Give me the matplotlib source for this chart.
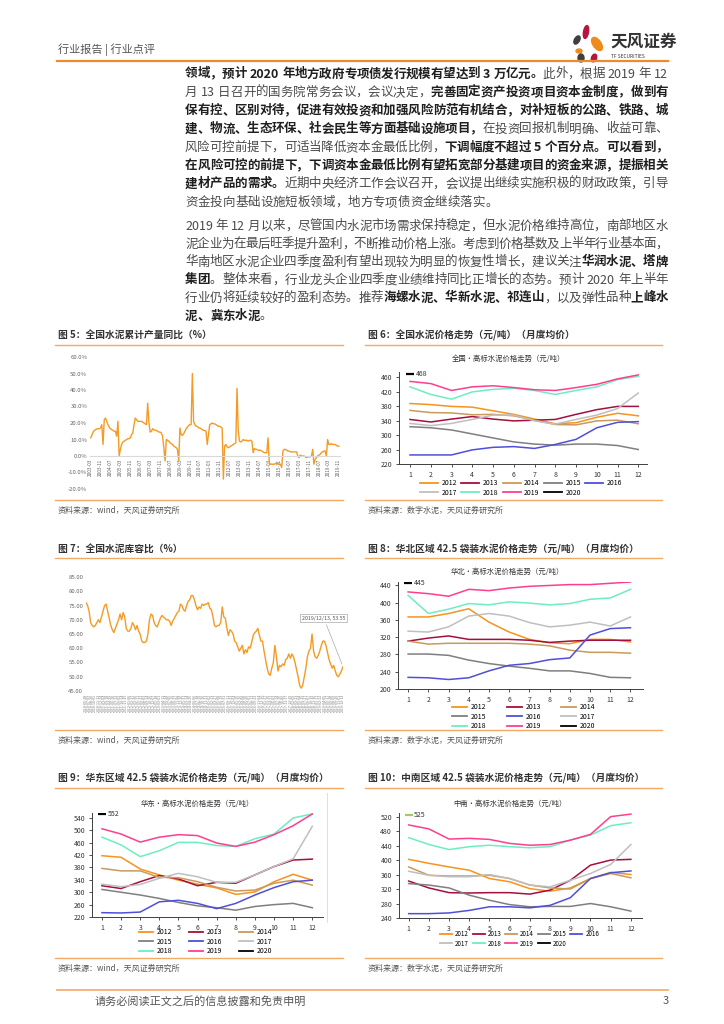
import re
import numpy as np
import pandas as pd
import matplotlib
matplotlib.use('Agg')
import matplotlib.pyplot as plt
from matplotlib.lines import Line2D
from matplotlib.patches import Ellipse

plt.rcParams['font.family'] = ['Noto Sans CJK SC', 'DejaVu Sans']

W, H = 724, 1024

# ---------------- data ----------------
# 图5 全国水泥累计产量同比 (%), monthly from 2003-03 to 2019-11
cum_yoy = [
    11, 12.5, 14.5, 15.5, 16, 16.5, 16.5, 16.5, 17, 19,
    7, 22, 23, 21, 19, 17.5, 16.5, 16, 15.5, 15, 15, 12,
    21, 0, 4, 7, 8.5, 9, 9.5, 10, 10.5, 10.5, 11, 13,
    14, 19, 23, 22, 21, 21, 21, 21, 20.5, 20, 19.5, 19,
    32, 20, 14.5, 15, 16.5, 16, 15.5, 15.5, 15, 14.5, 14.5, 14,
    12, 5, -3, 10, 9.5, 9, 8, 7.5, 7, 6, 5.5, 5,
    4, -3, 17, 13, 12.5, 13.5, 15, 16.5, 17.5, 18.5, 19, 19,
    50, 21, 19, 18, 18, 17, 17, 16.5, 16, 15.5, 15.5, 15,
    7, 13, 19, 19.5, 20, 19.5, 19.5, 19, 18.5, 18, 18, 17.5,
    17, -14, 6, 7, 5.5, 5, 5.5, 6, 6.5, 7, 7.5, 8,
    41, 15, 9, 8.5, 9, 10, 9.5, 9.5, 9.5, 9, 9.5, 9.5,
    9, 2, 4.5, 4, 4, 3.5, 3.5, 3.5, 3, 2.5, 2, 2,
    2, 11, -4, -5, -5, -5, -5, -4.5, -4.5, -4.5, -5, -5,
    -7, 3, 4, 4, 3.5, 3, 3, 2.5, 2.5, 2.5, 2.5, 2.5,
    2.5, 0, -1, 0.5, 0, 0, 0, -0.5, -1, -0.5, -0.5, -0.5,
    0, 4, -5, -2, -1, 0, 0.5, 1, 2, 2.5, 3, 3,
    0, 10, 7, 7, 7.5, 7, 7, 7, 6.5, 6, 6,
]
cum_months = pd.date_range('2003-03-01', periods=len(cum_yoy), freq='MS')
cum_yticks = [-20, -10, 0, 10, 20, 30, 40, 50, 60]

# 图7 全国水泥库容比 (%)
stock_ratio = [
    76, 75, 73, 69, 68, 67.5, 68, 69, 70, 69, 71, 73, 75, 75.5, 73, 70.5,
    68, 66.5, 65.5, 67, 68.5, 70, 72, 70, 72.5, 71, 67, 66, 66, 67, 69, 68,
    66.5, 68, 66, 65, 62.5, 62, 62, 62.5, 65, 70, 72, 71.5, 69, 68, 67.5, 69,
    70.5, 71.5, 71, 70.5, 70, 70, 69.5, 68, 69.5, 70.5, 71.5, 72.5, 73, 75.5,
    75, 73.5, 73, 75, 76.5, 77, 78.5, 78.5, 77, 75, 73.5, 74.5, 74, 75.5,
    75, 75.5, 75.5, 76, 74, 73.5, 71, 68, 67.5, 68, 68, 69, 74.5, 71,
    70.5, 67, 64.5, 66.5, 66, 65, 62.5, 62, 60.5, 59, 60, 61, 58, 59.5,
    58.5, 60.5, 60, 62, 64.5, 65.5, 66, 67, 64.5, 62.5, 62.5, 59, 56, 53,
    51, 50.5, 53, 55, 61, 57, 52, 54, 53.5, 54.5, 54, 56, 56.5, 58, 56.5,
    58, 57, 55, 52.5, 50, 47, 46, 47, 50, 53, 57, 59, 60, 65, 59, 57,
    56.5, 57.5, 59, 61, 62.5, 62.5, 61, 58.5, 56, 54.5, 53, 54, 52, 50.5,
    50, 51, 52, 53.55,
]
stock_dates = pd.date_range(end='2019-12-13', periods=len(stock_ratio), freq='3W-FRI')
stock_yticks = [45, 50, 55, 60, 65, 70, 75, 80, 85]

months = list(range(1, 13))
years = ['2012', '2013', '2014', '2015', '2016', '2017', '2018', '2019', '2020']
year_colors = ['#F7931E', '#A50F3C', '#C99A5B', '#7F7F7F', '#4F4FD9',
               '#BFBFBF', '#6EEDC0', '#FF3F8E', '#000000']

# 图6 全国
national = {
    '2012': [387, 384, 379, 377, 367, 357, 344, 331, 334, 349, 360, 353],
    '2013': [343, 336, 344, 351, 344, 339, 341, 343, 357, 370, 379, 379],
    '2014': [368, 362, 361, 356, 357, 353, 341, 329, 328, 339, 341, 331],
    '2015': [323, 320, 314, 303, 292, 281, 275, 272, 275, 275, 271, 260],
    '2016': [245, 245, 245, 259, 266, 268, 263, 274, 288, 320, 335, 337],
    '2017': [332, 326, 332, 343, 355, 355, 339, 330, 343, 355, 373, 416],
    '2018': [433, 412, 399, 419, 426, 429, 423, 412, 423, 433, 453, 462],
    '2019': [448, 442, 423, 433, 436, 431, 425, 423, 431, 440, 455, 466],
}
national_2020 = 468

# 图8 华北
north = {
    '2012': [367, 367, 375, 386, 355, 332, 315, 307, 305, 315, 315, 309],
    '2013': [311, 318, 323, 315, 315, 315, 313, 308, 311, 313, 313, 313],
    '2014': [311, 304, 306, 306, 306, 306, 304, 300, 290, 285, 285, 283],
    '2015': [281, 281, 278, 267, 259, 253, 248, 242, 242, 236, 227, 226],
    '2016': [227, 226, 222, 226, 242, 255, 259, 268, 272, 325, 340, 342],
    '2017': [334, 332, 344, 369, 375, 369, 354, 344, 348, 355, 346, 367],
    '2018': [417, 375, 385, 398, 395, 402, 399, 395, 398, 408, 411, 431],
    '2019': [425, 421, 415, 431, 428, 434, 438, 440, 442, 442, 445, 448],
}
north_2020 = 445

# 图9 华东
east = {
    '2012': [418, 413, 375, 356, 339, 326, 314, 293, 301, 334, 358, 339],
    '2013': [321, 312, 334, 354, 343, 321, 332, 329, 356, 383, 404, 407],
    '2014': [377, 369, 369, 348, 347, 334, 316, 304, 307, 329, 339, 323],
    '2015': [309, 300, 291, 280, 267, 256, 250, 242, 254, 260, 264, 250],
    '2016': [234, 233, 236, 269, 274, 264, 247, 264, 291, 315, 334, 339],
    '2017': [326, 318, 325, 345, 361, 350, 332, 332, 356, 383, 408, 513],
    '2018': [478, 453, 415, 434, 461, 461, 451, 448, 473, 488, 540, 553],
    '2019': [505, 488, 462, 478, 486, 483, 459, 448, 462, 486, 515, 553],
}
east_2020 = 552

# 图10 中南
central_south = {
    '2012': [402, 391, 381, 372, 349, 340, 321, 314, 323, 349, 366, 360],
    '2013': [342, 323, 310, 309, 310, 310, 306, 317, 344, 386, 400, 402],
    '2014': [381, 358, 356, 356, 358, 349, 331, 323, 320, 349, 363, 351],
    '2015': [335, 331, 323, 303, 289, 277, 271, 272, 272, 280, 271, 259],
    '2016': [252, 252, 254, 261, 271, 271, 268, 275, 296, 349, 365, 370],
    '2017': [369, 358, 354, 354, 360, 349, 331, 326, 344, 363, 388, 443],
    '2018': [462, 443, 429, 437, 441, 437, 434, 437, 455, 469, 495, 503],
    '2019': [497, 486, 458, 460, 457, 446, 441, 443, 455, 471, 520, 527],
}
central_south_2020 = 525

# ---------------- figure ----------------
fig = plt.figure(figsize=(7.24, 10.24), dpi=100)
bg = fig.add_axes([0, 0, 1, 1])
bg.set_xlim(0, W)
bg.set_ylim(H, 0)
bg.axis('off')
renderer = fig.canvas.get_renderer()

ORANGE = '#EE8A2B'
LIGHT_ORANGE = '#F3A964'
LINE_ORANGE = '#F59A23'
TXT = '#4a4a4a'
BOLD_TXT = '#1f1f1f'


def add_axes(left, top, right, bottom):
    return fig.add_axes([left / W, 1 - bottom / H, (right - left) / W, (bottom - top) / H])


def draw_line(segments, y, x0=185, x1=668, justify=True, size=9):
    tokens = []
    for text, bold in segments:
        for tok in re.findall(r'[A-Za-z0-9.%/]+| |.', text):
            tokens.append((tok, bold))
    objs, widths = [], []
    for tok, bold in tokens:
        if tok == ' ':
            objs.append(None)
            widths.append(3.2)
            continue
        t = bg.text(0, y, tok, fontsize=size, va='center', ha='left',
                    fontweight='bold' if bold else 'normal',
                    color=BOLD_TXT if bold else TXT)
        objs.append(t)
        widths.append(t.get_window_extent(renderer).width)
    gap = 0
    if justify and len(tokens) > 1:
        gap = (x1 - x0 - sum(widths)) / (len(tokens) - 1)
    x = x0
    for t, w in zip(objs, widths):
        if t is not None:
            t.set_x(x)
        x += w + gap


# header
bg.text(58, 50, '行业报告 | 行业点评', fontsize=8, color='#555555', va='center')
bg.plot([57, 668], [61, 61], color=ORANGE, lw=1.6)
for (cx, cy, w, h, ang, c) in [(586, 32, 5, 13, 10, '#B5163F'), (597, 44, 8, 15, -35, '#F08A1C'),
                               (577, 40, 5, 9, 30, '#3f3f3f'), (579, 51, 6, 4, 0, '#F08A1C'),
                               (581, 58, 6, 8, 0, '#3f3f3f'), (594, 58, 5, 8, 20, '#B5163F')]:
    bg.add_patch(Ellipse((cx, cy), w, h, angle=ang, color=c))
bg.text(610, 42, '天风证券', fontsize=12, fontweight='bold', color='#333333', va='center')
bg.text(611, 56, 'TF SECURITIES', fontsize=3.5, color='#333333', va='center')

# body text
para1 = [
    [('领域，预计 2020 年地方政府专项债发行规模有望达到 3 万亿元。', True), ('此外，根据 2019 年 12', False)],
    [('月 13 日召开的国务院常务会议，会议决定，', False), ('完善固定资产投资项目资本金制度，做到有', True)],
    [('保有控、区别对待，促进有效投资和加强风险防范有机结合，对补短板的公路、铁路、城', True)],
    [('建、物流、生态环保、社会民生等方面基础设施项目，', True), ('在投资回报机制明确、收益可靠、', False)],
    [('风险可控前提下，可适当降低资本金最低比例，', False), ('下调幅度不超过 5 个百分点。可以看到，', True)],
    [('在风险可控的前提下，下调资本金最低比例有望拓宽部分基建项目的资金来源，提振相关', True)],
    [('建材产品的需求。', True), ('近期中央经济工作会议召开，会议提出继续实施积极的财政政策，引导', False)],
    [('资金投向基础设施短板领域，地方专项债资金继续落实。', False)],
]
para2 = [
    [('2019 年 12 月以来，尽管国内水泥市场需求保持稳定，但水泥价格维持高位，南部地区水', False)],
    [('泥企业为在最后旺季提升盈利，不断推动价格上涨。考虑到价格基数及上半年行业基本面，', False)],
    [('华南地区水泥企业四季度盈利有望出现较为明显的恢复性增长，建议关注', False), ('华润水泥、塔牌', True)],
    [('集团', True), ('。整体来看，行业龙头企业四季度业绩维持同比正增长的态势。预计 2020 年上半年', False)],
    [('行业仍将延续较好的盈利态势。推荐', False), ('海螺水泥、华新水泥、祁连山', True),
     ('，以及弹性品种', False), ('上峰水', True)],
    [('泥、冀东水泥', True), ('。', False)],
]
for i, segs in enumerate(para1):
    draw_line(segs, 74 + 18.3 * i, justify=i < len(para1) - 1)
for i, segs in enumerate(para2):
    draw_line(segs, 226 + 18.0 * i, justify=i < len(para2) - 1)


def frame(x0, x1, title_y, rule_y, bottom_y, title, source):
    bg.text(x0 + 1, title_y, title, fontsize=7, fontweight='bold', color='#333333', va='center')
    bg.plot([x0 - 2, x1], [rule_y, rule_y], color=LIGHT_ORANGE, lw=1.0)
    bg.plot([x0 - 2, x1], [bottom_y, bottom_y], color=LIGHT_ORANGE, lw=1.0)
    bg.text(x0 + 1, bottom_y + 10, source, fontsize=5.8, color='#555555', va='center')


frame(57, 343, 335, 345, 500, '图 5：全国水泥累计产量同比（%）', '资料来源：wind，天风证券研究所')
frame(367, 662, 335, 345, 500, '图 6：全国水泥价格走势（元/吨）（月度均价）', '资料来源：数字水泥，天风证券研究所')
frame(57, 343, 549, 558, 730, '图 7：全国水泥库容比（%）', '资料来源：wind，天风证券研究所')
frame(367, 662, 549, 558, 730, '图 8：华北区域 42.5 袋装水泥价格走势（元/吨）（月度均价）', '资料来源：数字水泥，天风证券研究所')
frame(57, 343, 778, 788, 958, '图 9：华东区域 42.5 袋装水泥价格走势（元/吨）（月度均价）', '资料来源：wind，天风证券研究所')
frame(367, 662, 778, 788, 958, '图 10：中南区域 42.5 袋装水泥价格走势（元/吨）（月度均价）', '资料来源：数字水泥，天风证券研究所')

# footer
bg.plot([57, 668], [990, 990], color=LIGHT_ORANGE, lw=1.2)
bg.text(95, 1001, '请务必阅读正文之后的信息披露和免责申明', fontsize=8, color='#555555', va='center')
bg.text(663, 1001, '3', fontsize=8, color='#555555', va='center')

# ---- 图5
ax5 = add_axes(90, 357, 340, 489)
for s in ['top', 'right', 'left']:
    ax5.spines[s].set_visible(False)
ax5.spines['bottom'].set_position(('data', 0))
ax5.spines['bottom'].set_color('#d9d9d9')
ax5.plot(range(len(cum_yoy)), cum_yoy, color=LINE_ORANGE, lw=1.0)
ax5.set_ylim(-20, 60)
ax5.set_xlim(-0.5, len(cum_yoy))
ax5.set_yticks(cum_yticks)
ax5.set_yticklabels([f'{v:.1f}%' for v in cum_yticks], fontsize=4.3, color='#666666')
xt = list(range(0, len(cum_yoy), 8))
ax5.set_xticks(xt)
ax5.set_xticklabels([cum_months[i].strftime('%Y-%m') for i in xt], rotation=90,
                    fontsize=3.4, color='#666666')
ax5.tick_params(length=0, pad=2)
ax5.patch.set_alpha(0)

# ---- 图7
ax7 = add_axes(86, 577, 343, 691)
ax7.plot(range(len(stock_ratio)), stock_ratio, color=LINE_ORANGE, lw=1.0)
ax7.set_ylim(45, 85)
ax7.set_xlim(0, len(stock_ratio) - 1)
ax7.set_yticks(stock_yticks)
ax7.set_yticklabels([f'{v:.2f}' for v in stock_yticks], fontsize=4.3, color='#666666')
xt7 = list(range(0, len(stock_ratio), 2))
ax7.set_xticks(xt7)
ax7.set_xticklabels([stock_dates[i].strftime('%Y-%m-%d') for i in xt7], rotation=90,
                    fontsize=2.6, color='#777777')
for s in ax7.spines.values():
    s.set_visible(False)
ax7.tick_params(length=0, pad=2)
ax7.patch.set_alpha(0)
ax7.annotate('2019/12/13, 53.55', xy=(len(stock_ratio) - 1, stock_ratio[-1]),
             xytext=(0.925, 0.64), textcoords='axes fraction', fontsize=3.8, color='#555555',
             ha='center', va='center',
             bbox=dict(boxstyle='square,pad=0.3', fc='white', ec='#aaaaaa', lw=0.5),
             arrowprops=dict(arrowstyle='-', color='#aaaaaa', lw=0.5))


def price_chart(rect, data, last_val, last_color, ylim, yticks, xlim, inner_title, title_xy,
                ncol, leg_xy, leg_font, handle_len, colspacing):
    ax = add_axes(*rect)
    for yr, c in zip(years[:-1], year_colors[:-1]):
        ax.plot(months, data[yr], color=c, lw=1.1)
    ax.plot([1], [last_val], marker='_', ms=6, mew=1.6, color=last_color, ls='none')
    ax.annotate(str(last_val), (1, last_val), xytext=(4, 0), textcoords='offset points',
                fontsize=5, va='center', color='#333333')
    ax.set_xlim(*xlim)
    ax.set_ylim(*ylim)
    ax.set_xticks(months)
    ax.set_yticks(yticks)
    ax.tick_params(labelsize=5, colors='#333333', length=2, width=0.6, pad=3)
    for s in ['top', 'right']:
        ax.spines[s].set_visible(False)
    for s in ['left', 'bottom']:
        ax.spines[s].set_color('#404040')
        ax.spines[s].set_linewidth(0.7)
    ax.patch.set_alpha(0)
    bg.text(title_xy[0], title_xy[1], inner_title, fontsize=5.3, color='#333333',
            ha='center', va='center')
    handles = [Line2D([], [], color=c, lw=1.3) for c in year_colors]
    nrow = int(np.ceil(len(years) / ncol))
    order = [r * ncol + k for k in range(ncol) for r in range(nrow) if r * ncol + k < len(years)]
    ax.legend([handles[i] for i in order], [years[i] for i in order], ncol=ncol,
              loc='upper left', bbox_to_anchor=(leg_xy[0] / W, 1 - leg_xy[1] / H),
              bbox_transform=fig.transFigure, frameon=False, fontsize=leg_font,
              handlelength=handle_len, handletextpad=0.5, columnspacing=colspacing,
              labelspacing=0.25, borderpad=0, borderaxespad=0)
    return ax


price_chart((399, 372, 647, 464), national, national_2020, '#000000', (220, 474),
            [220, 260, 300, 340, 380, 420, 460], (0.47, 12.42),
            '全国·高标水泥价格走势（元/吨）', (508, 359), 5, (420, 479), 5, 2.6, 0.6)
price_chart((398, 582, 643, 689), north, north_2020, '#000000', (200, 448),
            [200, 240, 280, 320, 360, 400, 440], (0.5, 12.62),
            '华北·高标水泥价格走势（元/吨）', (507, 572), 3, (452, 703), 5, 2.2, 2.9)
price_chart((92, 813, 323, 917), east, east_2020, '#000000', (220, 556),
            [220, 260, 300, 340, 380, 420, 460, 500, 540], (0.48, 12.56),
            '华东·高标水泥价格走势（元/吨）', (197, 804), 3, (139, 928), 5, 2.0, 2.5)
price_chart((399, 813, 642, 918), central_south, central_south_2020, '#9CCC65', (240, 530),
            [240, 280, 320, 360, 400, 440, 480, 520], (0.52, 12.55),
            '中南·高标水泥价格走势（元/吨）', (510, 804), 5, (440, 930), 4.5, 1.9, 0.6)
bg.plot([327, 327], [793, 922], color='#d9d9d9', lw=0.6)

fig.savefig('out.png', dpi=100)
